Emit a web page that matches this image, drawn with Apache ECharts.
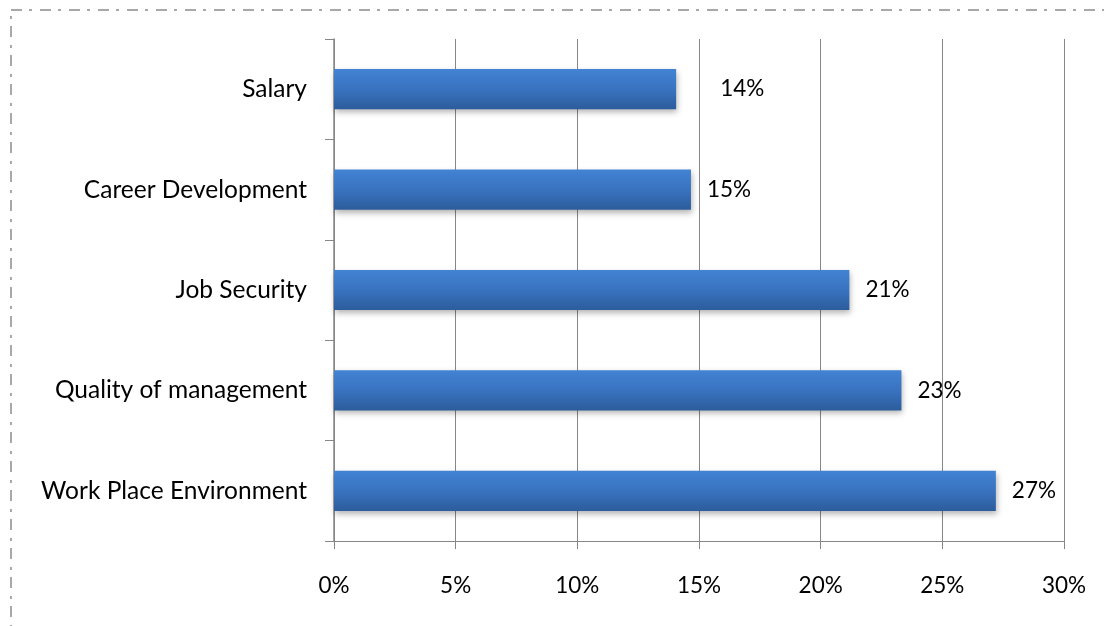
<!DOCTYPE html>
<html>
<head>
<meta charset="utf-8">
<script src="https://cdn.jsdelivr.net/npm/echarts@6/dist/echarts.min.js"></script>
<style>
  html, body { margin: 0; padding: 0; background: #fff; }
  #chart { width: 1104px; height: 626px; }
</style>
</head>
<body>
<div id="chart"></div>
<script>
// categories, top to bottom
const categories = ['Salary', 'Career Development', 'Job Security', 'Quality of management', 'Work Place Environment']
// bar lengths (percent)
const values = [14.06, 14.67, 21.18, 23.32, 27.2]
// labels shown next to the bars
const valueLabels = ['14%', '15%', '21%', '23%', '27%']

const chart = echarts.init(document.getElementById('chart'))

const fontFamily = 'Lato, "Noto Sans", sans-serif'

const option = {
  animation: false,
  backgroundColor: '#ffffff',
  grid: {
    left: 334,
    right: 40,
    top: 39,
    bottom: 85
  },
  xAxis: {
    type: 'value',
    min: 0,
    max: 30,
    interval: 5,
    axisLine: { show: true, lineStyle: { color: '#878787', width: 1 } },
    axisTick: { show: true, length: 8, lineStyle: { color: '#878787' } },
    axisLabel: {
      formatter: '{value}%',
      color: '#000',
      fontSize: 22.5,
      fontFamily: fontFamily,
      margin: 33
    },
    splitLine: { show: true, lineStyle: { color: '#878787', width: 1 } }
  },
  yAxis: {
    type: 'category',
    inverse: true,
    data: categories,
    axisLine: { show: true, lineStyle: { color: '#878787', width: 1.5 } },
    axisTick: { show: true, length: 9, inside: false, lineStyle: { color: '#878787' } },
    axisLabel: {
      color: '#000',
      fontSize: 24.5,
      fontFamily: fontFamily,
      margin: 27
    }
  },
  series: [{
    type: 'bar',
    barCategoryGap: '60%',
    data: values.map((v, i) => ({
      value: v,
      // the Salary label sits further out in the original
      label: { distance: i === 0 ? 44 : 16 }
    })),
    label: {
      show: true,
      position: 'right',
      color: '#000',
      fontSize: 22.5,
      fontFamily: fontFamily,
      formatter: (p) => valueLabels[p.dataIndex]
    },
    itemStyle: {
      color: new echarts.graphic.LinearGradient(0, 0, 0, 1, [
        { offset: 0, color: '#4283d3' },
        { offset: 0.5, color: '#3973c0' },
        { offset: 1, color: '#2c5c9b' }
      ]),
      shadowColor: 'rgba(0, 0, 0, 0.3)',
      shadowBlur: 6,
      shadowOffsetY: 3,
      shadowOffsetX: 1
    }
  }],
  graphic: [{
    type: 'rect',
    silent: true,
    shape: { x: 11, y: 10, width: 1200, height: 800 },
    style: {
      fill: 'none',
      stroke: '#8c8c8c',
      lineWidth: 1.5,
      lineDash: [11, 7, 3, 8]
    },
    z: -1
  }]
}

chart.setOption(option)
</script>
</body>
</html>
